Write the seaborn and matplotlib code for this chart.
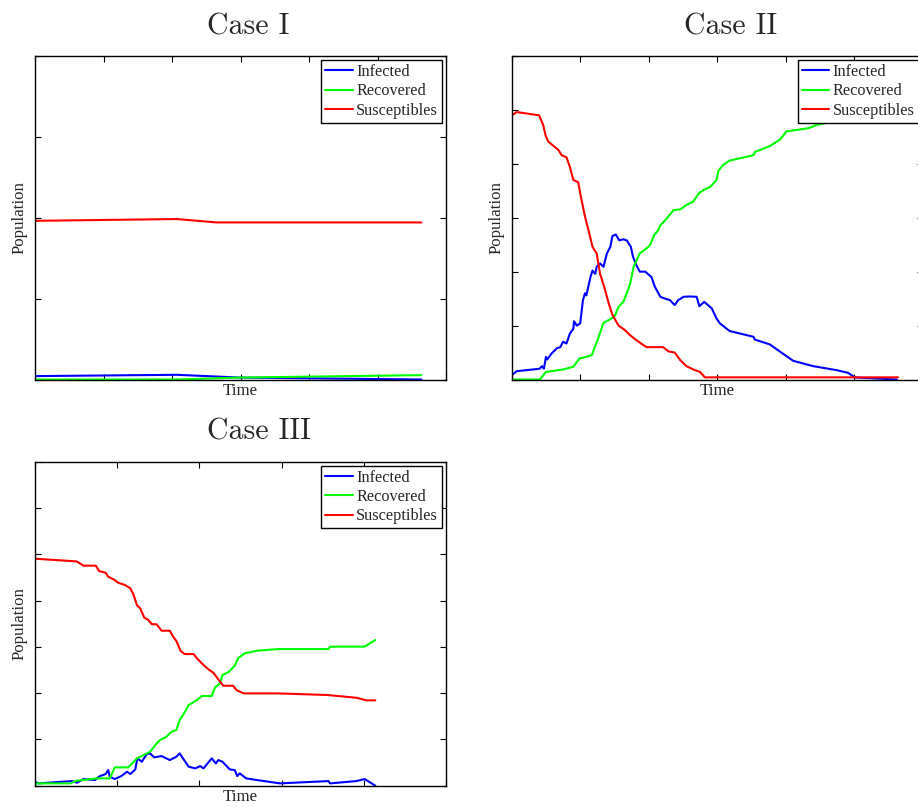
import matplotlib
matplotlib.use("Agg")
import matplotlib.pyplot as plt
import seaborn as sns

# ---------------- data ----------------
labels = ["Infected", "Recovered", "Susceptibles"]
titles = ["Case I", "Case II", "Case III"]

# Case I
c1_inf_t = [0, 20.7, 29.9, 56.4]
c1_inf = [2.1, 2.9, 1.2, 0.0]
c1_rec_t = [0, 20.7, 29.9, 56.4]
c1_rec = [0.0, 0.0, 1.2, 2.7]
c1_sus_t = [0, 20.7, 26.5, 56.4]
c1_sus = [98.1, 99.2, 97.1, 97.1]

# Case II
c2_inf_t = [0, 0.73, 4.1, 4.4, 4.7, 5.0, 5.2, 5.8, 6.6, 7.1, 7.5, 8.0, 8.5, 9.0, 9.1, 9.5,
            10.0, 10.4, 10.7, 10.9, 11.5, 11.8, 12.2, 12.4, 12.9, 13.4, 13.9, 14.4, 14.7,
            15.2, 15.7, 16.3, 16.8, 17.4, 17.7, 18.2, 18.7, 19.5, 20.4, 20.9, 21.7, 22.4,
            23.1, 23.8, 24.3, 25.1, 26.0, 27.0, 27.4, 28.1, 29.2, 29.9, 30.4, 31.8, 35.3,
            35.5, 37.7, 39.2, 41.1, 44.0, 47.4, 49.1, 50.1, 56.2]
c2_inf = [4, 7.7, 10, 12.4, 10, 21, 18.6, 24, 29, 30, 35, 33.4, 42.7, 47, 54, 50,
          52, 73.6, 80, 78, 95, 101, 98, 104.5, 107.6, 104.5, 117, 123, 133,
          134.5, 129, 130, 129, 123, 114, 106, 100, 100, 95, 86, 76.7, 75,
          73.6, 69, 73.6, 76.7, 77, 76.7, 68, 72, 66, 56.6, 52, 45, 39.6,
          37, 32.5, 25.7, 17.3, 12.4, 8.7, 6.2, 1.9, 0]
c2_rec_t = [0, 4.1, 5.0, 7.5, 9.0, 9.9, 10.9, 11.7, 12.7, 13.4, 14.6, 15.1, 15.6, 16.3,
            16.8, 17.3, 17.8, 18.7, 19.5, 20.2, 20.8, 21.4, 21.7, 22.6, 23.6, 24.6, 25.5,
            26.5, 27.3, 28.0, 29.0, 29.9, 30.2, 30.9, 31.8, 35.3, 35.5, 37.7, 39.2, 40.1,
            43.3, 44.5, 47.9, 49.9, 56.2]
c2_rec = [0, 0, 7, 9.3, 11.8, 19.5, 21, 22.6, 39.6, 52.6, 56.6, 59.7, 67.4, 72,
          80, 89, 104.5, 117, 120.6, 124.6, 134, 138.6, 143, 149, 157, 157.7, 161.8,
          165, 172.6, 175.7, 178.8, 185, 194, 199, 203, 208, 211, 216.5, 222.7, 230,
          233, 236, 240.6, 243.7, 248]
c2_sus_t = [0, 0.73, 4.0, 4.6, 4.96, 5.35, 6.8, 7.3, 8.0, 8.5, 9.0, 9.7, 10.1, 10.7,
            11.2, 11.8, 12.4, 12.9, 13.5, 14.1, 14.7, 15.6, 16.5, 17.3, 18.2, 19.2, 19.7,
            22.1, 22.9, 23.8, 24.6, 25.5, 26.5, 27.5, 28.2, 56.4]
c2_sus = [245, 248, 245, 236, 226, 220.5, 213, 208, 206, 197, 185, 183, 169.5, 151,
          138.6, 123, 117, 98, 86, 72, 60, 50, 46, 41, 36.5, 32, 30,
          30, 26, 25, 18, 12.4, 9.3, 7, 2, 2]

# Case III
c3_inf_t = [0, 0.4, 4.5, 5.1, 5.9, 7.3, 7.9, 8.6, 8.9, 9.1, 9.7, 10.5, 11.2, 11.6, 12.2,
            12.45, 13.0, 13.6, 14.0, 14.5, 15.4, 16.4, 17.2, 17.6, 18.0, 18.7, 19.5, 20.1,
            20.5, 21.5, 22.0, 22.3, 22.8, 23.7, 24.3, 24.6, 24.9, 25.7, 27.0, 29.8, 35.7,
            35.9, 39.1, 40.1, 41.4]
c3_inf = [4.3, 2.5, 5, 3.2, 7.2, 6.1, 10.4, 12.6, 16.9, 9.7, 7.2, 10.4, 15.1, 12.6, 17.6,
          29.5, 25.9, 34.2, 34.9, 30.6, 32, 27.7, 31.3, 34.9, 29.5, 20.5, 18.7, 21.2,
          18.7, 29.5, 24.1, 27.7, 25.9, 17.6, 16.9, 10.4, 13.3, 7.9, 6.1, 2.5, 5,
          2.5, 5, 7.2, 0]
c3_rec_t = [0, 0.2, 4.3, 5.1, 7.5, 9.1, 9.7, 11.35, 12.4, 13.2, 14.0, 14.8, 15.2, 16.0,
            16.6, 17.2, 17.6, 18.0, 18.7, 19.7, 20.3, 21.5, 21.9, 22.5, 22.8, 23.6, 24.3,
            24.7, 25.5, 27.0, 29.6, 35.7, 35.9, 40.1, 40.75, 41.4]
c3_rec = [0, 2.5, 2.5, 5.4, 7.9, 7.9, 19.8, 19.8, 29.5, 33.1, 36.7, 45.7, 49.3, 52.9,
          58.3, 60.1, 70.9, 76.3, 87.1, 92.5, 96.9, 96.9, 106.2, 110.5, 119.5, 123.1, 129.6,
          137.6, 143, 145.8, 147.6, 147.6, 150.2, 150.2, 153.8, 157.4]
c3_sus_t = [0, 5.07, 5.9, 7.4, 7.8, 8.6, 8.9, 9.7, 10.1, 10.95, 11.6, 12.0, 12.4, 12.8,
            13.3, 13.7, 14.2, 14.8, 15.4, 16.4, 16.8, 17.2, 17.7, 18.2, 19.3, 19.7, 20.5,
            21.1, 21.7, 22.3, 22.9, 24.1, 24.5, 25.4, 29.6, 35.5, 39.1, 40.3, 41.4]
c3_sus = [245.2, 242.3, 237.7, 237.7, 231.9, 230, 225.8, 222.2, 219.3, 216.8, 213.2, 206,
          195, 191.6, 181.5, 179.7, 174.6, 174.3, 167.4, 167.4, 161, 156.3, 145.8, 142.2,
          142.2, 137.6, 130.4, 125.7, 122, 114.9, 108, 108, 103.3, 99.7, 99.7, 98, 95,
          92.2, 92.2]

# ---------------- style ----------------
sns.set_style("ticks")
plt.rcParams["font.family"] = ["Liberation Serif", "DejaVu Serif"]
plt.rcParams["axes.linewidth"] = 1.0
plt.rcParams["axes.edgecolor"] = "black"

colors = {"Infected": (0, 0, 1), "Recovered": (0, 1, 0), "Susceptibles": (1, 0, 0)}

fig = plt.figure(figsize=(9.18, 8.07), dpi=100)
W, H = 918.0, 807.0
ax_w = 411 / W
ax_h = 323.5 / H
positions = [
    (35 / W, 1 - 379.5 / H, ax_w, ax_h),
    (511.7 / W, 1 - 379.5 / H, ax_w, ax_h),
    (35 / W, 1 - 785.7 / H, ax_w, (785.7 - 461.7) / H),
]
cases = [
    ((c1_inf_t, c1_inf), (c1_rec_t, c1_rec), (c1_sus_t, c1_sus)),
    ((c2_inf_t, c2_inf), (c2_rec_t, c2_rec), (c2_sus_t, c2_sus)),
    ((c3_inf_t, c3_inf), (c3_rec_t, c3_rec), (c3_sus_t, c3_sus)),
]
xlims = [(0, 60), (0, 60), (0, 50)]
ylims = [(0, 200), (0, 300), (0, 350)]

for pos, series, title, xl, yl in zip(positions, cases, titles, xlims, ylims):
    ax = fig.add_axes(pos)
    for lab, (t, v) in zip(labels, series):
        sns.lineplot(x=t, y=v, ax=ax, color=colors[lab], lw=1.5, label=lab,
                     estimator=None, sort=False)
    ax.set_xlim(*xl)
    ax.set_ylim(*yl)
    ax.set_xticks(list(range(xl[0], xl[1] + 1, 10)))
    ax.set_yticks(list(range(yl[0], yl[1] + 1, 50)))
    ax.tick_params(direction="in", top=True, right=True, labelbottom=False,
                   labelleft=False, length=4, width=0.8, color="black")
    for s in ax.spines.values():
        s.set_visible(True)
        s.set_color("black")
        s.set_linewidth(1.0)
    ax.set_xlabel("Time", fontsize=12.2, labelpad=2.5)
    ax.set_ylabel("Population", fontsize=12.2, labelpad=5.5)
    h = pos[3] * H
    ax.text(0.4185, 1 + 22 / h, title, transform=ax.transAxes, ha="left",
            va="baseline", fontsize=21.5, family="cmr10")
    leg = ax.legend(loc="upper right", fontsize=11.7, frameon=True, fancybox=False,
                    edgecolor="black", framealpha=1, borderaxespad=0.25,
                    handlelength=1.7, handletextpad=0.2, labelspacing=0.2,
                    borderpad=0.25)
    leg.get_frame().set_linewidth(1.0)

fig.savefig("out.png", dpi=100)
